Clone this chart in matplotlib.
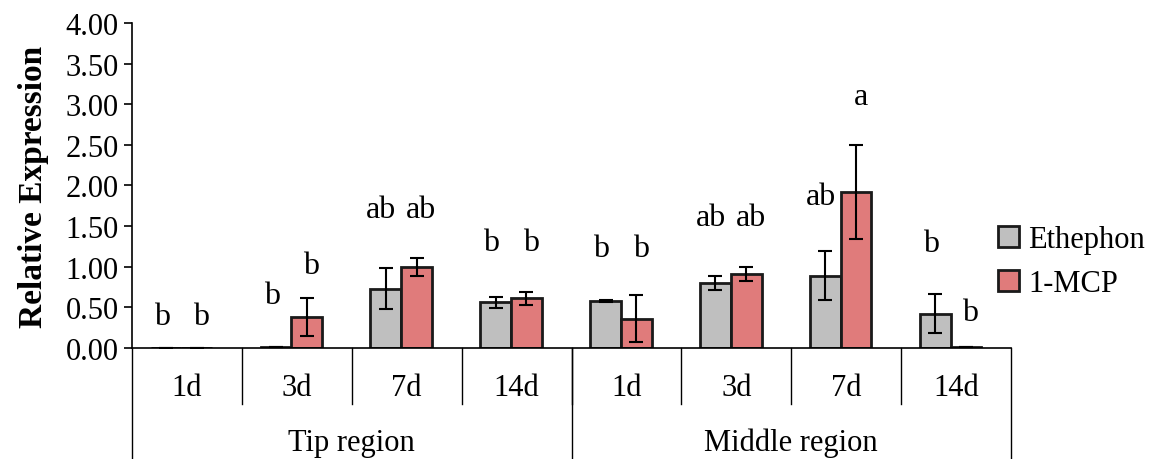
import numpy as np
import matplotlib.pyplot as plt
from matplotlib.transforms import blended_transform_factory

plt.rcParams['font.family'] = ['Liberation Serif', 'DejaVu Serif']

# Data
days = ['1d', '3d', '7d', '14d', '1d', '3d', '7d', '14d']
regions = ['Tip region', 'Middle region']
ethephon = [0.00, 0.01, 0.73, 0.56, 0.58, 0.80, 0.89, 0.42]
ethephon_err = [0.00, 0.00, 0.25, 0.07, 0.01, 0.09, 0.30, 0.24]
mcp = [0.00, 0.38, 1.00, 0.61, 0.36, 0.91, 1.92, 0.01]
mcp_err = [0.00, 0.23, 0.11, 0.08, 0.29, 0.09, 0.58, 0.00]

# significance letters and their heights
eth_letters = ['b', 'b', 'ab', 'b', 'b', 'ab', 'ab', 'b']
eth_letter_y = [0.39, 0.64, 1.71, 1.30, 1.22, 1.61, 1.86, 1.28]
mcp_letters = ['b', 'b', 'ab', 'b', 'b', 'ab', 'a', 'b']
mcp_letter_y = [0.39, 1.02, 1.71, 1.30, 1.22, 1.61, 3.09, 0.44]

fig = plt.figure(figsize=(11.51, 4.6), dpi=100)
ax = fig.add_axes([0.1147, 0.2413, 0.7637, 0.7067])

x = np.arange(len(days))
w = 0.28
shift = -0.05

ax.bar(x + shift - w / 2, ethephon, w, yerr=ethephon_err, color='#bfbfbf',
       edgecolor='#1a1a1a', linewidth=2, label='Ethephon',
       error_kw=dict(ecolor='black', elinewidth=1.5, capsize=5, capthick=1.5))
ax.bar(x + shift + w / 2, mcp, w, yerr=mcp_err, color='#e07b7b',
       edgecolor='#1a1a1a', linewidth=2, label='1-MCP',
       error_kw=dict(ecolor='black', elinewidth=1.5, capsize=5, capthick=1.5))

for i in range(len(days)):
    ax.text(x[i] + shift - w / 2 - 0.04, eth_letter_y[i], eth_letters[i],
            ha='center', va='center', fontsize=23)
    ax.text(x[i] + shift + w / 2 + 0.04, mcp_letter_y[i], mcp_letters[i],
            ha='center', va='center', fontsize=23)

ax.set_xlim(-0.5, len(days) - 0.5)
ax.set_ylim(0, 4)
ax.set_yticks(np.arange(0, 4.01, 0.5))
ax.set_yticklabels([f'{v:.2f}' for v in np.arange(0, 4.01, 0.5)])
ax.tick_params(axis='y', direction='out', length=6, width=1.2, labelsize=22)
ax.set_ylabel('Relative Expression', fontsize=24, fontweight='bold', labelpad=12)

for s in ['top', 'right']:
    ax.spines[s].set_visible(False)
ax.spines['left'].set_linewidth(1.2)
ax.spines['bottom'].set_linewidth(1.2)

# multi-level category axis
ax.set_xticks(x)
ax.set_xticklabels(days, fontsize=22)
ax.tick_params(axis='x', length=0, pad=18)

trans = blended_transform_factory(ax.transData, ax.transAxes)
row1 = -0.172
row2 = -0.34
for b in np.arange(0.5, len(days) - 0.5):
    ax.plot([b, b], [0, row1], color='black', lw=1, transform=trans, clip_on=False)
for b in [-0.5, 3.5, 7.5]:
    ax.plot([b, b], [0, row2], color='black', lw=1, transform=trans, clip_on=False)
for j, r in enumerate(regions):
    ax.text(1.5 + 4 * j, -0.29, r, transform=trans, ha='center', va='center',
            fontsize=22)

ax.legend(loc='center left', bbox_to_anchor=(0.985, 0.265), frameon=False,
          fontsize=22, handlelength=0.7, handleheight=0.7, handletextpad=0.3,
          labelspacing=0.5, borderpad=0, borderaxespad=0)

fig.savefig('out.png', dpi=100)
